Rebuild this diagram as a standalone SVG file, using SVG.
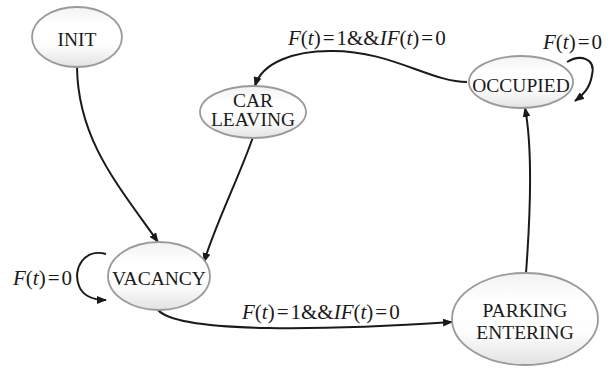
<svg xmlns="http://www.w3.org/2000/svg" width="610" height="368" viewBox="0 0 610 368">
<defs>
<linearGradient id="g" x1="0" y1="0" x2="0" y2="1">
<stop offset="0" stop-color="#f2f2f2"/>
<stop offset="0.3" stop-color="#ffffff"/>
<stop offset="0.65" stop-color="#fdfdfd"/>
<stop offset="1" stop-color="#e2e2e2"/>
</linearGradient>
<marker id="arr" markerUnits="userSpaceOnUse" markerWidth="10" markerHeight="8" refX="9" refY="4" orient="auto">
<path d="M0,0 L10,4 L0,8 Z" fill="#1a1a1a"/>
</marker>
</defs>
<style>
text{font-family:"Liberation Serif","DejaVu Serif",serif}
.node ellipse{fill:url(#g);stroke:#9a9a9a;stroke-width:1.8}
.node text{font-size:19.5px;fill:#1a1a1a;text-anchor:middle}
.edge{fill:none;stroke:#1a1a1a;stroke-width:2;marker-end:url(#arr)}
.lbl{font-size:21px;fill:#1a1a1a}
.i{font-style:italic}
</style>
<rect width="610" height="368" fill="#ffffff"/>
<g id="connectors">
<path class="edge" d="M77,67 C78,140 118,185 158,242"/>
<path class="edge" d="M253,137 C240,175 215,225 204,262"/>
<path class="edge" d="M158,310 C180,334 330,330 452,322"/>
<path class="edge" d="M526,273 C530,220 533,150 525,108"/>
<path class="edge" d="M467,82 C430,82 390,50 330,51 C295,51 262,62 255,86"/>
<path class="edge" d="M567,62 C580,54 596,58 592,75 C590,88 583,95 575,101"/>
<path class="edge" d="M106,254 C85,248 72,268 79,286 C83,296 92,300 106,300"/>
</g>
<g id="INIT" class="node"><ellipse cx="77" cy="37" rx="45" ry="30"/><text x="77" y="46">INIT</text></g>
<g id="CAR_LEAVING" class="node"><ellipse cx="253" cy="112" rx="53" ry="26"/><text x="253" y="107">CAR</text><text x="253" y="126">LEAVING</text></g>
<g id="OCCUPIED" class="node"><ellipse cx="521" cy="82" rx="52" ry="26"/><text x="521" y="91.5">OCCUPIED</text></g>
<g id="VACANCY" class="node"><ellipse cx="159" cy="276" rx="51" ry="34"/><text x="159" y="285">VACANCY</text></g>
<g id="PARKING_ENTERING" class="node"><ellipse cx="525" cy="319" rx="73" ry="46"/><text x="525" y="317">PARKING</text><text x="525" y="339">ENTERING</text></g>
<g id="labels">
<text class="lbl" x="288" y="44.5"><tspan class="i">F</tspan>(<tspan class="i">t</tspan>)<tspan dx="2">=</tspan><tspan dx="2">1&amp;&amp;</tspan><tspan class="i">IF</tspan>(<tspan class="i">t</tspan>)<tspan dx="2">=</tspan><tspan dx="2">0</tspan></text>
<text class="lbl" x="543" y="49"><tspan class="i">F</tspan>(<tspan class="i">t</tspan>)<tspan dx="2">=</tspan><tspan dx="2">0</tspan></text>
<text class="lbl" x="13" y="285"><tspan class="i">F</tspan>(<tspan class="i">t</tspan>)<tspan dx="2">=</tspan><tspan dx="2">0</tspan></text>
<text class="lbl" x="242" y="319"><tspan class="i">F</tspan>(<tspan class="i">t</tspan>)<tspan dx="2">=</tspan><tspan dx="2">1&amp;&amp;</tspan><tspan class="i">IF</tspan>(<tspan class="i">t</tspan>)<tspan dx="2">=</tspan><tspan dx="2">0</tspan></text>
</g>
</svg>
